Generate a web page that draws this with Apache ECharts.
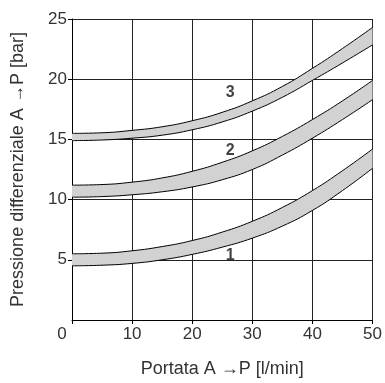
<!DOCTYPE html>
<html>
<head>
<meta charset="utf-8">
<script src="https://cdn.jsdelivr.net/npm/echarts@6/dist/echarts.min.js"></script>
<style>
  html, body { margin: 0; padding: 0; background: #fff; }
  #chart { width: 385px; height: 383px; }
</style>
</head>
<body>
<div id="chart"></div>
<script>
  // portata [l/min]
  var flow = [0, 5, 10, 15, 20, 25, 30, 35, 40, 45, 50]

  // curva 1
  var c1Low = [4.5, 4.55, 4.7, 5.0, 5.45, 6.05, 6.8, 7.8, 9.1, 10.75, 12.6]
  var c1High = [5.5, 5.55, 5.75, 6.1, 6.6, 7.3, 8.2, 9.35, 10.75, 12.4, 14.2]
  // curva 2
  var c2Low = [10.2, 10.25, 10.4, 10.65, 11.05, 11.65, 12.5, 13.7, 15.1, 16.65, 18.3]
  var c2High = [11.2, 11.25, 11.45, 11.8, 12.35, 13.1, 14.05, 15.25, 16.65, 18.2, 19.9]
  // curva 3
  var c3Low = [14.9, 14.95, 15.1, 15.35, 15.8, 16.45, 17.35, 18.5, 19.9, 21.35, 22.85]
  var c3High = [15.5, 15.55, 15.75, 16.05, 16.55, 17.25, 18.2, 19.4, 20.9, 22.55, 24.3]

  // etichette curve
  var curveNames = ['1', '2', '3']
  var curveLabelX = [26.3, 26.3, 26.3]
  var curveLabelY = [5.35, 14.1, 18.9]

  var font = 'Liberation Sans, Arial, sans-serif'

  // coppia di serie impilate: bordo inferiore + fascia grigia
  // (pressione nella prima dimensione, così lo stack avviene sull'asse y)
  function band (name, low, high) {
    var base = flow.map(function (x, i) { return [low[i], x] })
    var diff = flow.map(function (x, i) { return [high[i] - low[i], x] })
    var common = {
      type: 'line',
      stack: name,
      smooth: 0.5,
      symbol: 'none',
      dimensions: ['p', 'q'],
      encode: { x: 1, y: 0 },
      lineStyle: { color: '#000', width: 1 },
      z: 3
    }
    return [
      Object.assign({}, common, { name: name + 'a', data: base }),
      Object.assign({}, common, {
        name: name + 'b',
        data: diff,
        areaStyle: { color: '#d2d2d2', opacity: 1 }
      })
    ]
  }

  var series = []
    .concat(band('c1', c1Low, c1High))
    .concat(band('c2', c2Low, c2High))
    .concat(band('c3', c3Low, c3High))

  series.push({
    type: 'scatter',
    symbolSize: 0,
    z: 5,
    label: {
      show: true,
      position: 'inside',
      formatter: function (p) { return p.data[2] },
      fontFamily: font,
      fontWeight: 'bold',
      fontSize: 16,
      color: '#111'
    },
    data: curveNames.map(function (n, i) { return [curveLabelX[i], curveLabelY[i], n] })
  })

  var chart = echarts.init(document.getElementById('chart'))
  chart.setOption({
    animation: false,
    grid: { left: 72, right: 10, top: 19, bottom: 61, containLabel: false },
    xAxis: {
      type: 'value',
      min: 0,
      max: 50,
      interval: 10,
      name: 'Portata A \u2192P [l/min]',
      nameLocation: 'middle',
      nameGap: 40,
      nameTextStyle: { fontFamily: font, fontSize: 18, color: '#333' },
      axisLine: { show: true, lineStyle: { color: '#000', width: 1 } },
      axisTick: { show: true, length: 4, lineStyle: { color: '#000' } },
      axisLabel: {
        margin: 6,
        fontFamily: font,
        fontSize: 17,
        color: '#333',
        formatter: function (v) { return v === 0 ? '{z|0}' : String(v) },
        rich: { z: { fontFamily: font, fontSize: 17, color: '#333', padding: [0, 20, 0, 0] } }
      },
      splitLine: { show: true, lineStyle: { color: '#222', width: 1 } }
    },
    yAxis: {
      type: 'value',
      min: 0,
      max: 25,
      interval: 5,
      name: 'Pressione differenziale A \u2192P [bar]',
      nameLocation: 'middle',
      nameGap: 45,
      nameTextStyle: { fontFamily: font, fontSize: 18, color: '#333' },
      axisLine: { show: true, lineStyle: { color: '#000', width: 1 } },
      axisTick: { show: true, length: 4, lineStyle: { color: '#000' } },
      axisLabel: {
        margin: 5,
        fontFamily: font,
        fontSize: 17,
        color: '#333',
        showMinLabel: false
      },
      splitLine: { show: true, lineStyle: { color: '#222', width: 1 } }
    },
    series: series
  })
</script>
</body>
</html>
